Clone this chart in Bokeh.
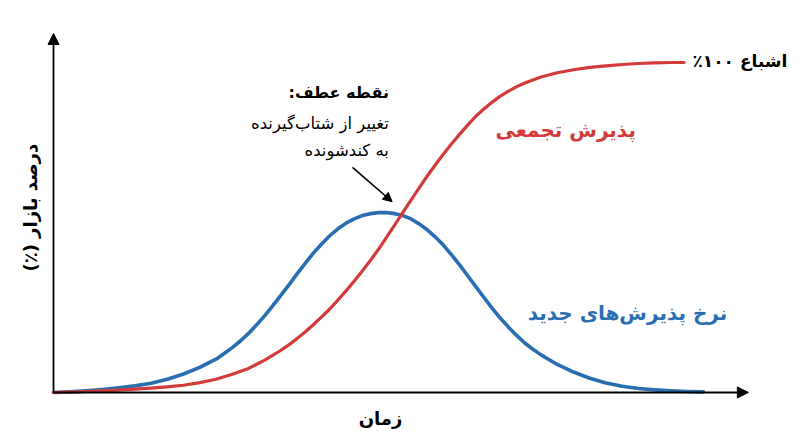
from bokeh.plotting import figure
from bokeh.models import Range1d, Arrow, NormalHead
from bokeh.core.properties import value
from bokeh.embed import file_html
from bokeh.resources import INLINE

# ---- data ----
time_x = [0, 2.5, 5, 7.5, 10, 12.5, 15, 17.5, 20, 22.5, 25, 26.25, 27.5, 28.75,
          30, 31.25, 32.5, 33.75, 35, 36.25, 37.5, 38.75, 40, 41.25, 42.5,
          43.75, 45, 46.25, 47.5, 48.75, 50, 51.25, 52.5, 53.75, 55, 56.25,
          57.5, 58.75, 60, 61.25, 62.5, 63.75, 65, 66.25, 67.5, 68.75, 70,
          71.25, 72.5, 73.75, 75, 77.5, 80, 82.5, 85, 87.5, 90, 92.5, 95,
          97.5, 100]
new_rate = [0.0, 0.2, 0.5, 0.9, 1.4, 2.0, 2.8, 4.0, 5.6, 7.6, 10.1, 11.8, 13.6,
            15.6, 17.9, 20.5, 23.3, 26.3, 29.5, 32.7, 36.0, 39.2, 42.3, 45.0,
            47.5, 49.6, 51.3, 52.6, 53.6, 54.2, 54.5, 54.5, 54.2, 53.6, 52.6,
            51.1, 49.3, 47.1, 44.6, 41.7, 38.6, 35.3, 32.0, 28.7, 25.5, 22.5,
            19.8, 17.3, 15.0, 13.1, 11.4, 8.5, 6.2, 4.3, 2.9, 1.9, 1.2, 0.8,
            0.5, 0.3, 0.2]

cum_x = [0, 2.5, 5, 7.5, 10, 12.5, 15, 17.5, 20, 22.5, 25, 27.5, 30, 32.5, 35,
         36.25, 37.5, 38.75, 40, 41.25, 42.5, 43.75, 45, 46.25, 47.5, 48.75,
         50, 51.25, 52.5, 53.75, 55, 56.25, 57.5, 58.75, 60, 61.25, 62.5,
         63.75, 65, 66.25, 67.5, 68.75, 70, 71.25, 72.5, 75, 77.5, 80, 82.5,
         85, 87.5, 90, 92.5, 95, 97]
cumulative = [0.0, 0.1, 0.3, 0.5, 0.7, 1.0, 1.3, 1.7, 2.2, 3.0, 4.0, 5.5, 7.3,
              9.8, 12.8, 14.5, 16.4, 18.4, 20.6, 22.9, 25.3, 28.0, 30.8, 33.7,
              36.8, 40.0, 43.4, 47.1, 50.8, 54.6, 58.3, 62.0, 65.6, 69.0, 72.3,
              75.4, 78.3, 81.1, 83.8, 86.0, 88.0, 89.8, 91.3, 92.7, 93.8, 95.6,
              96.9, 97.8, 98.5, 99.0, 99.4, 99.7, 99.9, 100.0, 100.0]

label_saturation = "اشباع ۱۰۰٪"
label_cumulative = "پذیرش تجمعی"
label_rate = "نرخ پذیرش‌های جدید"
label_inflection_title = "نقطه عطف:"
label_inflection_lines = ["تغییر از شتاب‌گیرنده", "به کندشونده"]
label_x = "زمان"
label_y = "درصد بازار (٪)"


def rtl(s):
    # right-to-left embedding so that punctuation and digits sit correctly
    return "\u202B" + s + "\u202C"


RED = "#d33b3b"
BLUE = "#2a6eb2"
FONT = "DejaVu Sans"

W, H = 800, 447
p = figure(width=W, height=H, output_backend="svg", toolbar_location=None,
           x_axis_location=None, y_axis_location=None, min_border=0,
           x_range=Range1d(-8.154, 114.92), y_range=Range1d(-16.67, 118.79))
p.outline_line_color = None
p.xgrid.visible = False
p.ygrid.visible = False
p.background_fill_color = "white"
p.border_fill_color = "white"

# axes with arrows
X_END, Y_END = 106.9, 108.8
p.add_layout(Arrow(x_start=0, y_start=0, x_end=X_END, y_end=0, line_width=1.8,
                   line_color="black",
                   end=NormalHead(size=11, fill_color="black", line_color="black")))
p.add_layout(Arrow(x_start=0, y_start=0, x_end=0, y_end=Y_END, line_width=1.8,
                   line_color="black",
                   end=NormalHead(size=11, fill_color="black", line_color="black")))

# curves
p.line(time_x, new_rate, line_color=BLUE, line_width=3.6, line_cap="round",
       line_join="round")
p.line(cum_x, cumulative, line_color=RED, line_width=3.2, line_cap="round",
       line_join="round")

# annotation arrow
p.add_layout(Arrow(x_start=46.0, y_start=68.2, x_end=52.1, y_end=57.8,
                   line_width=1.6, line_color="black",
                   end=NormalHead(size=9, fill_color="black", line_color="black")))

# texts
p.text(x=[98.3], y=[100.6], text=[rtl(label_saturation)], text_font=value(FONT),
       text_font_style="bold", text_font_size="17px", text_align="left",
       text_baseline="middle", text_color="black")
p.text(x=[78.8], y=[79.4], text=[rtl(label_cumulative)], text_font=value(FONT),
       text_font_style="bold", text_font_size="20px", text_align="center",
       text_baseline="middle", text_color=RED)
p.text(x=[88.3], y=[24.2], text=[rtl(label_rate)], text_font=value(FONT),
       text_font_style="bold", text_font_size="20px", text_align="center",
       text_baseline="middle", text_color=BLUE)
p.text(x=[51.6], y=[90.9], text=[rtl(label_inflection_title)], text_font=value(FONT),
       text_font_style="bold", text_font_size="16px", text_align="right",
       text_baseline="middle", text_color="black")
p.text(x=[51.6, 51.6], y=[81.5, 73.3], text=[rtl(t) for t in label_inflection_lines],
       text_font=value(FONT), text_font_size="16.5px", text_align="right",
       text_baseline="middle", text_color="black")
p.text(x=[50.3], y=[-7.9], text=[rtl(label_x)], text_font=value(FONT),
       text_font_style="bold", text_font_size="18px", text_align="center",
       text_baseline="middle", text_color="black")
p.text(x=[-3.5], y=[56.0], text=[rtl(label_y)], text_font=value(FONT),
       text_font_style="bold", text_font_size="18px", text_align="center",
       text_baseline="middle", text_color="black", angle=1.5708)

open("out.html", "w").write(file_html(p, INLINE))
